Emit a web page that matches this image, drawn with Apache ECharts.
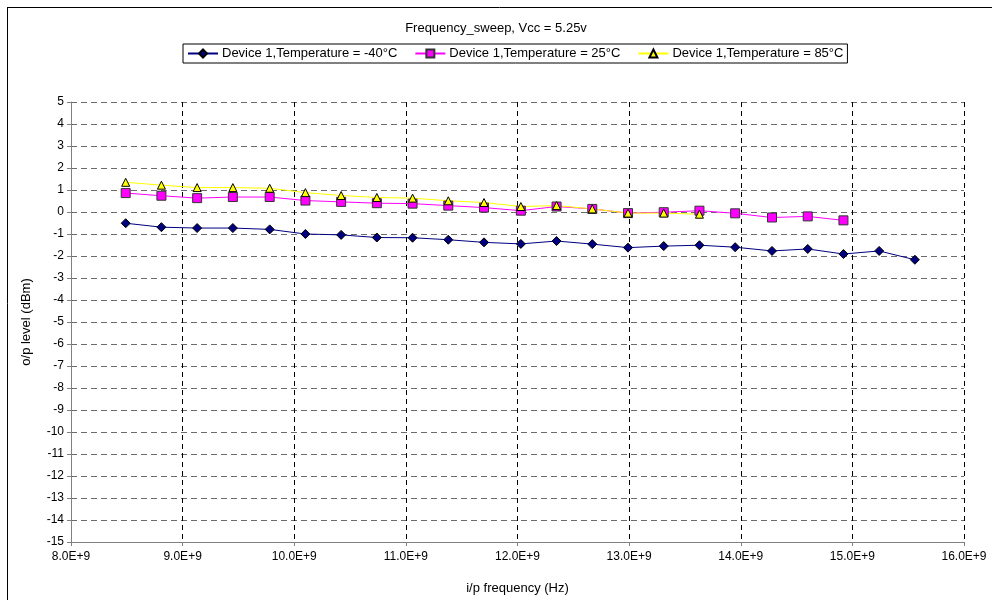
<!DOCTYPE html>
<html>
<head>
<meta charset="utf-8">
<script src="https://cdn.jsdelivr.net/npm/echarts@6/dist/echarts.min.js"></script>
<style>
html,body{margin:0;padding:0;background:#fff;}
#c{width:992px;height:600px;}
</style>
</head>
<body>
<div id="c"></div>
<script>
var chartTitle = 'Frequency_sweep, Vcc = 5.25v';
var xTitle = 'i/p frequency (Hz)';
var yTitle = 'o/p level (dBm)';
var seriesNames = ['Device 1,Temperature = -40\u00B0C', 'Device 1,Temperature = 25\u00B0C', 'Device 1,Temperature = 85\u00B0C'];
// frequencies in GHz
var freqGHz = [8.49, 8.81, 9.13, 9.45, 9.78, 10.10, 10.42, 10.74, 11.06, 11.38, 11.70, 12.03, 12.35, 12.67, 12.99, 13.31, 13.63, 13.95, 14.28, 14.60, 14.92, 15.24, 15.56];
var tempM40 = [-0.51, -0.69, -0.73, -0.73, -0.79, -1.00, -1.04, -1.16, -1.17, -1.26, -1.38, -1.45, -1.32, -1.46, -1.62, -1.55, -1.51, -1.60, -1.77, -1.68, -1.91, -1.77, -2.17];
var temp25 = [0.86, 0.74, 0.63, 0.68, 0.68, 0.52, 0.46, 0.40, 0.38, 0.29, 0.20, 0.06, 0.25, 0.14, -0.05, -0.01, 0.06, -0.06, -0.25, -0.20, -0.38];
var temp85 = [1.35, 1.22, 1.11, 1.11, 1.08, 0.88, 0.75, 0.66, 0.63, 0.51, 0.43, 0.25, 0.29, 0.14, -0.05, -0.05, -0.10];
var xMin = 8e9, xMax = 16e9, xStep = 1e9;
var yMin = -15, yMax = 5, yStep = 1;

function pairs(vals) {
  return vals.map(function (v, i) { return [freqGHz[i] * 1e9, v]; });
}

var font = 'Liberation Sans, Arial, sans-serif';
var chart = echarts.init(document.getElementById('c'), null, {renderer: 'canvas'});
chart.setOption({
  animation: false,
  backgroundColor: '#fff',
  textStyle: {fontFamily: font},
  title: {
    text: chartTitle, left: 'center', top: 17,
    textStyle: {fontFamily: font, fontSize: 13, fontWeight: 'normal', color: '#000'}
  },
  legend: {
    top: 44, left: 183,
    data: seriesNames,
    borderColor: '#000', borderWidth: 1, padding: [3, 4, 3, 4],
    itemGap: 17, itemWidth: 30, itemHeight: 10,
    textStyle: {fontFamily: font, fontSize: 13, color: '#000', padding: [0, 0, 0, -1]}
  },
  grid: {left: 71, right: 28, top: 102, bottom: 50, containLabel: false},
  xAxis: {
    type: 'value', min: xMin, max: xMax, interval: xStep,
    name: xTitle, nameLocation: 'middle', nameGap: 40,
    nameTextStyle: {fontFamily: font, fontSize: 13, color: '#000'},
    axisLine: {show: true, onZero: false, lineStyle: {color: '#808080', width: 1}},
    axisTick: {show: true, length: 4, lineStyle: {color: '#808080'}},
    axisLabel: {fontFamily: font, fontSize: 12, color: '#000', margin: 9,
      formatter: function (v) { return (v / 1e9).toFixed(1) + 'E+9'; }},
    splitLine: {show: true, lineStyle: {color: '#000', type: [5, 4], width: 1}}
  },
  yAxis: {
    type: 'value', min: yMin, max: yMax, interval: yStep,
    name: yTitle, nameLocation: 'middle', nameGap: 38,
    nameTextStyle: {fontFamily: font, fontSize: 13, color: '#000'},
    axisLine: {show: true, lineStyle: {color: '#808080', width: 1}},
    axisTick: {show: true, length: 4, lineStyle: {color: '#808080'}},
    axisLabel: {fontFamily: font, fontSize: 12, color: '#000', margin: 7},
    splitLine: {show: true, lineStyle: {color: '#6b6b6b', type: [6, 4], width: 1}}
  },
  series: [
    {
      name: seriesNames[0], type: 'line', data: pairs(tempM40),
      symbol: 'diamond', symbolSize: 9,
      lineStyle: {color: '#000080', width: 1},
      itemStyle: {color: '#000080', borderColor: '#000', borderWidth: 1}
    },
    {
      name: seriesNames[1], type: 'line', data: pairs(temp25),
      symbol: 'rect', symbolSize: 9,
      lineStyle: {color: '#FF00FF', width: 1},
      itemStyle: {color: '#FF00FF', borderColor: '#333', borderWidth: 1}
    },
    {
      name: seriesNames[2], type: 'line', data: pairs(temp85),
      symbol: 'triangle', symbolSize: 8,
      lineStyle: {color: '#FFFF00', width: 1},
      itemStyle: {color: '#FFFF00', borderColor: '#000', borderWidth: 1}
    }
  ],
  graphic: [
    {type: 'line', shape: {x1: 7.5, y1: 7, x2: 7.5, y2: 600}, style: {stroke: '#000', lineWidth: 1}, silent: true},
    {type: 'line', shape: {x1: 7, y1: 7.5, x2: 992, y2: 7.5}, style: {stroke: '#000', lineWidth: 1}, silent: true}
  ]
});
</script>
</body>
</html>
